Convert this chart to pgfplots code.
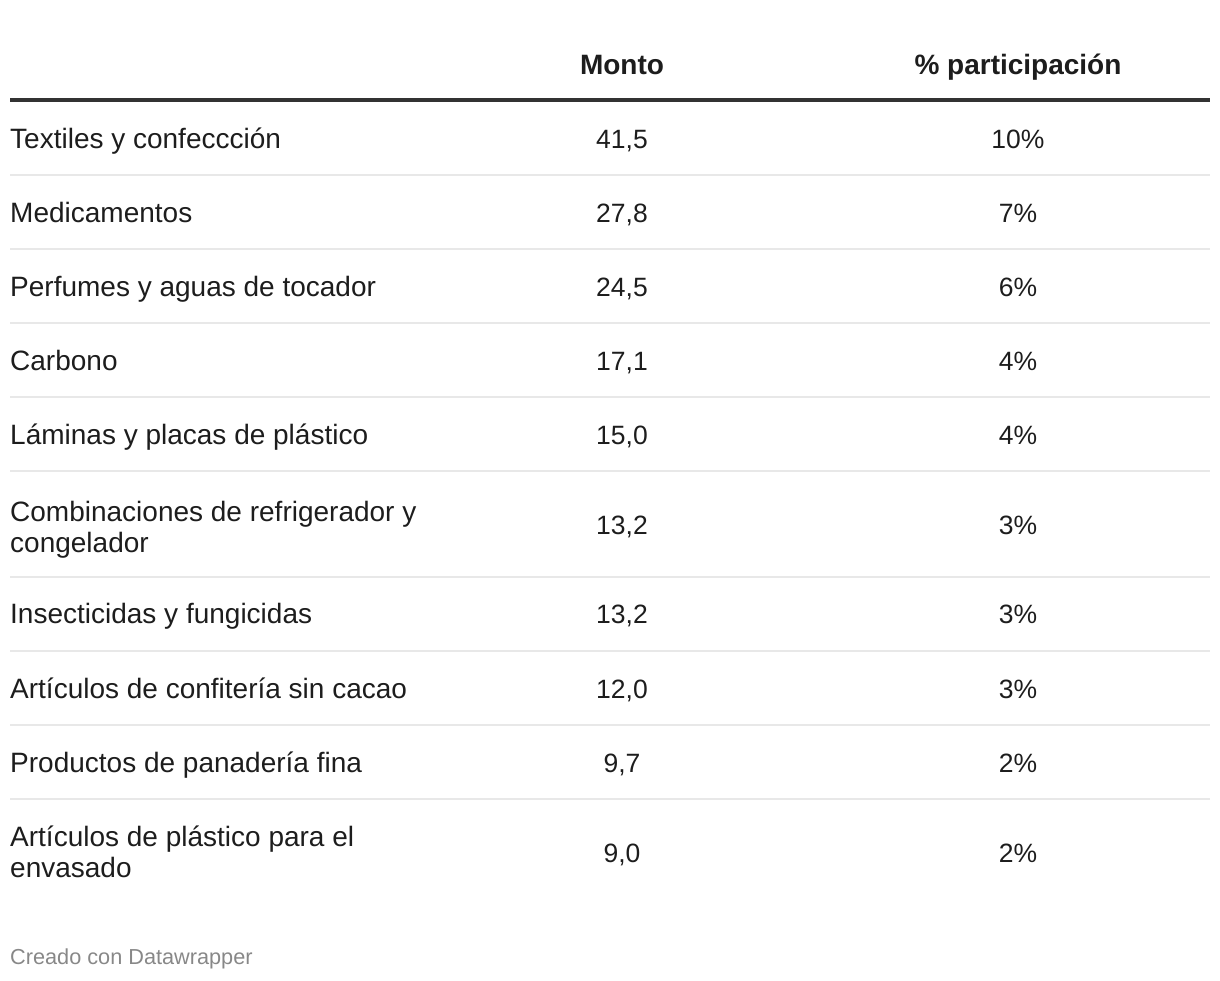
\documentclass[border=0pt]{standalone}
\usepackage{pgfplots}
\pgfplotsset{compat=1.18}
\usepackage{pgfplotstable}
\usepackage{fontspec}
\setmainfont{Liberation Sans}
\definecolor{txt}{HTML}{1D1D1D}
\definecolor{rulec}{HTML}{333333}
\definecolor{sepc}{HTML}{E8E8E8}
\definecolor{foot}{HTML}{888888}

% row labels (baseline y in px)
\pgfplotstableread{
y label
148 {Textiles y confeccción}
222 {Medicamentos}
296 {Perfumes y aguas de tocador}
370 {Carbono}
444 {Láminas y placas de plástico}
521 {Combinaciones de refrigerador y}
552 {congelador}
623 {Insecticidas y fungicidas}
698 {Artículos de confitería sin cacao}
772 {Productos de panadería fina}
846 {Artículos de plástico para el}
877 {envasado}
}\labels

% values
\pgfplotstableread{
y monto pct
148 41.5 10
222 27.8 7
296 24.5 6
370 17.1 4
444 15.0 4
534 13.2 3
623 13.2 3
698 12.0 3
772 9.7 2
862 9.0 2
}\vals

\pgfplotstableread{
x y label
622 74 Monto
1018 74 {\% participación}
}\heads

\begin{document}
\begin{tikzpicture}
\begin{axis}[
  width=1220pt, height=980pt, scale only axis,
  xmin=0, xmax=1220, ymin=0, ymax=980,
  y dir=reverse,
  hide axis, clip=false,
  /pgf/number format/assume math mode=true,
  every node near coord/.append style={inner sep=0pt, color=txt,
    font=\fontsize{28}{33}\selectfont},
]
\path (rel axis cs:0,0) rectangle (rel axis cs:1,1);

% header rule and row separators
\addplot[rulec, line width=3.5pt] coordinates {(10,100) (1210,100)};
\pgfplotsinvokeforeach{175,249,323,397,471,577,651,725,799}{
  \addplot[sepc, line width=1.5pt] coordinates {(10,#1) (1210,#1)};
}

% headers
\addplot[draw=none, no markers, point meta=explicit symbolic,
  nodes near coords,
  every node near coord/.append style={anchor=base, font=\fontsize{28}{33}\selectfont\bfseries}]
  table[x=x, y=y, meta=label] {\heads};

% row labels
\addplot[draw=none, no markers, point meta=explicit symbolic,
  nodes near coords,
  every node near coord/.append style={anchor=base west}]
  table[x expr=10, y=y, meta=label] {\labels};

% monto
\addplot[draw=none, no markers, point meta=explicit,
  nodes near coords={\pgfmathprintnumber[fixed, fixed zerofill, precision=1, use comma]{\pgfplotspointmeta}},
  every node near coord/.append style={anchor=base, font=\fontsize{26.5}{31}\selectfont}]
  table[x expr=622, y=y, meta=monto] {\vals};

% participacion
\addplot[draw=none, no markers, point meta=explicit,
  nodes near coords={\pgfmathprintnumber[fixed, precision=0]{\pgfplotspointmeta}\%},
  every node near coord/.append style={anchor=base, font=\fontsize{26.5}{31}\selectfont}]
  table[x expr=1018, y=y, meta=pct] {\vals};

% footer
\addplot[draw=none, no markers, point meta=explicit symbolic,
  nodes near coords,
  every node near coord/.append style={anchor=base west, color=foot,
    font=\fontsize{21.7}{26}\selectfont}]
  coordinates {(10,964) [Creado con Datawrapper]};
\end{axis}
\end{tikzpicture}
\end{document}
